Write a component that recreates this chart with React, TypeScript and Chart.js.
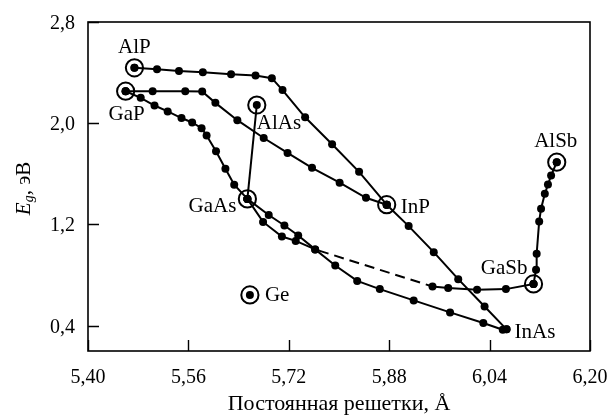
import React, { useEffect, useRef } from "react";
import { Chart, registerables } from "chart.js";

Chart.register(...registerables);

// ---- axis ticks ----
const X_TICKS = [5.4, 5.56, 5.72, 5.88, 6.04, 6.2];
const Y_TICKS = [0.4, 1.2, 2.0, 2.8];

// ---- curves (lattice constant, Å ; band gap, eV) ----
const ALP_INP_X = [5.474, 5.51, 5.545, 5.583, 5.628, 5.667, 5.693, 5.71, 5.746, 5.789, 5.832, 5.876];
const ALP_INP_Y = [2.438, 2.427, 2.413, 2.402, 2.387, 2.377, 2.356, 2.262, 2.047, 1.834, 1.616, 1.356];

const GAP_INP_X = [5.46, 5.503, 5.555, 5.582, 5.603, 5.638, 5.68, 5.718, 5.757, 5.801, 5.843, 5.876];
const GAP_INP_Y = [2.253, 2.253, 2.253, 2.251, 2.161, 2.024, 1.883, 1.765, 1.648, 1.53, 1.411, 1.356];

const INP_INAS_X = [5.876, 5.911, 5.951, 5.99, 6.032, 6.067];
const INP_INAS_Y = [1.356, 1.187, 0.981, 0.768, 0.552, 0.371];

const GAP_GAAS_X = [5.46, 5.484, 5.506, 5.527, 5.549, 5.566, 5.581, 5.589, 5.604, 5.619, 5.633, 5.654];
const GAP_GAAS_Y = [2.253, 2.201, 2.14, 2.093, 2.041, 2.006, 1.961, 1.903, 1.779, 1.64, 1.514, 1.402];

const ALAS_GAAS_X = [5.669, 5.654];
const ALAS_GAAS_Y = [2.144, 1.402];

const GAAS_INAS_X = [5.654, 5.679, 5.709, 5.731, 5.762, 5.794, 5.829, 5.865, 5.919, 5.977, 6.03, 6.061];
const GAAS_INAS_Y = [1.402, 1.22, 1.105, 1.07, 1.003, 0.876, 0.754, 0.689, 0.6, 0.505, 0.421, 0.368];

const GAAS_GASB_X = [5.654, 5.688, 5.713, 5.735, 5.762, 5.949, 5.974, 6.02, 6.066, 6.11];
const GAAS_GASB_Y = [1.402, 1.275, 1.192, 1.113, 1.003, 0.71, 0.697, 0.684, 0.689, 0.73];
const GAAS_GASB_DASHED_SEGMENT = 4; // segment starting at this index is dashed

const GASB_ALSB_X = [6.11, 6.114, 6.115, 6.119, 6.122, 6.128, 6.133, 6.138, 6.147];
const GASB_ALSB_Y = [0.73, 0.842, 0.969, 1.224, 1.324, 1.443, 1.515, 1.587, 1.692];

// ---- binary compounds ----
const COMPOUNDS = ["AlP", "GaP", "AlAs", "GaAs", "InP", "AlSb", "GaSb", "InAs", "Ge"];
const COMPOUND_X = [5.474, 5.46, 5.669, 5.654, 5.876, 6.147, 6.11, 6.067, 5.658];
const COMPOUND_Y = [2.438, 2.253, 2.144, 1.402, 1.356, 1.692, 0.73, 0.371, 0.643];
const CIRCLED = [true, true, true, true, true, true, true, false, true];

// label placement (style, pixels relative to the point)
const LABEL_STYLE: Record<string, { align: CanvasTextAlign; dx: number; dy: number }> = {
  AlP: { align: "center", dx: 0, dy: -15 },
  GaP: { align: "center", dx: 1, dy: 29 },
  AlAs: { align: "left", dx: 0, dy: 24 },
  GaAs: { align: "right", dx: -11, dy: 13 },
  InP: { align: "left", dx: 14, dy: 8 },
  AlSb: { align: "center", dx: -1, dy: -15 },
  GaSb: { align: "right", dx: -6, dy: -10 },
  InAs: { align: "left", dx: 8, dy: 9 },
  Ge: { align: "left", dx: 15, dy: 6 },
};

const FONT = '"Liberation Serif", "Times New Roman", serif';

function pts(xs: number[], ys: number[]) {
  return xs.map((x, i) => ({ x, y: ys[i] }));
}

export default function App() {
  const ref = useRef<HTMLCanvasElement>(null);

  useEffect(() => {
    document.body.style.margin = "0";
    const canvas = ref.current;
    if (!canvas) return;

    const lineDs = (label: string, xs: number[], ys: number[], extra: any = {}) => ({
      label,
      data: pts(xs, ys),
      showLine: true,
      borderColor: "#000",
      borderWidth: 2,
      pointRadius: 4,
      pointHoverRadius: 4,
      pointBackgroundColor: "#000",
      pointBorderWidth: 0,
      ...extra,
    });

    const decor = {
      id: "decor",
      afterDraw(chart: any) {
        const ctx: CanvasRenderingContext2D = chart.ctx;
        const { left, right, top, bottom } = chart.chartArea;
        const xs = chart.scales.x;
        const ys = chart.scales.y;
        ctx.save();
        ctx.strokeStyle = "#000";
        ctx.fillStyle = "#000";
        ctx.lineWidth = 1.6;
        ctx.strokeRect(left, top, right - left, bottom - top);

        // inward ticks
        ctx.lineWidth = 1.4;
        ctx.beginPath();
        X_TICKS.forEach((v) => {
          const px = Math.round(xs.getPixelForValue(v)) + 0.5;
          ctx.moveTo(px, bottom);
          ctx.lineTo(px, bottom - 11);
        });
        Y_TICKS.forEach((v) => {
          const py = Math.round(ys.getPixelForValue(v)) + 0.5;
          ctx.moveTo(left, py);
          ctx.lineTo(left + 11, py);
        });
        ctx.stroke();

        // tick labels
        ctx.font = `20px ${FONT}`;
        ctx.textBaseline = "alphabetic";
        ctx.textAlign = "center";
        X_TICKS.forEach((v) => {
          ctx.fillText(v.toFixed(2).replace(".", ","), xs.getPixelForValue(v), bottom + 32);
        });
        ctx.textAlign = "right";
        Y_TICKS.forEach((v) => {
          ctx.fillText(v.toFixed(1).replace(".", ","), left - 13, ys.getPixelForValue(v) + 7);
        });

        // x title
        ctx.font = `22px ${FONT}`;
        ctx.textAlign = "center";
        ctx.fillText("Постоянная решетки, Å", (left + right) / 2, 410);

        // y title: E_g, эВ (rotated)
        ctx.save();
        ctx.translate(30, (top + bottom) / 2 + 2);
        ctx.rotate(-Math.PI / 2);
        ctx.textAlign = "left";
        const fE = `italic 21px ${FONT}`;
        const fg = `italic 14px ${FONT}`;
        const fR = `21px ${FONT}`;
        ctx.font = fE;
        const wE = ctx.measureText("E").width;
        ctx.font = fg;
        const wg = ctx.measureText("g").width;
        ctx.font = fR;
        const wR = ctx.measureText(", эВ").width;
        let x0 = -(wE + wg + wR) / 2;
        ctx.font = fE;
        ctx.fillText("E", x0, 0);
        x0 += wE;
        ctx.font = fg;
        ctx.fillText("g", x0, 3);
        x0 += wg;
        ctx.font = fR;
        ctx.fillText(", эВ", x0, 0);
        ctx.restore();

        // compound labels
        ctx.font = `21px ${FONT}`;
        COMPOUNDS.forEach((name, i) => {
          const st = LABEL_STYLE[name];
          const px = xs.getPixelForValue(COMPOUND_X[i]);
          const py = ys.getPixelForValue(COMPOUND_Y[i]);
          ctx.textAlign = st.align;
          ctx.fillText(name, px + st.dx, py + st.dy);
        });
        ctx.restore();
      },
    };

    const ringIdx = COMPOUNDS.map((_, i) => i).filter((i) => CIRCLED[i]);

    const chart = new Chart(canvas, {
      type: "scatter",
      data: {
        datasets: [
          {
            label: "rings",
            data: ringIdx.map((i) => ({ x: COMPOUND_X[i], y: COMPOUND_Y[i] })),
            showLine: false,
            pointRadius: 8.6,
            pointHoverRadius: 8.6,
            pointBackgroundColor: "rgba(0,0,0,0)",
            pointBorderColor: "#000",
            pointBorderWidth: 2,
          } as any,
          {
            label: "dots",
            data: pts(COMPOUND_X, COMPOUND_Y),
            showLine: false,
            pointRadius: 4,
            pointHoverRadius: 4,
            pointBackgroundColor: "#000",
            pointBorderWidth: 0,
          } as any,
          lineDs("AlP-InP", ALP_INP_X, ALP_INP_Y),
          lineDs("GaP-InP", GAP_INP_X, GAP_INP_Y),
          lineDs("InP-InAs", INP_INAS_X, INP_INAS_Y),
          lineDs("GaP-GaAs", GAP_GAAS_X, GAP_GAAS_Y),
          lineDs("AlAs-GaAs", ALAS_GAAS_X, ALAS_GAAS_Y, { pointRadius: 0, pointHoverRadius: 0 }),
          lineDs("GaAs-InAs", GAAS_INAS_X, GAAS_INAS_Y),
          lineDs("GaAs-GaSb", GAAS_GASB_X, GAAS_GASB_Y, {
            segment: {
              borderDash: (c: any) => (c.p0DataIndex === GAAS_GASB_DASHED_SEGMENT ? [10, 6] : undefined),
              borderDashOffset: (c: any) => (c.p0DataIndex === GAAS_GASB_DASHED_SEGMENT ? 12 : undefined),
            },
          }),
          lineDs("GaSb-AlSb", GASB_ALSB_X, GASB_ALSB_Y),
        ],
      },
      options: {
        animation: false,
        responsive: false,
        maintainAspectRatio: false,
        events: [],
        layout: { padding: { left: 88, right: 18, top: 22, bottom: 64 } },
        plugins: { legend: { display: false }, tooltip: { enabled: false } },
        scales: {
          x: { type: "linear", display: false, min: 5.4, max: 6.2 },
          y: { type: "linear", display: false, min: 0.2, max: 2.8 },
        },
      },
      plugins: [decor],
    });
    return () => chart.destroy();
  }, []);

  return <canvas ref={ref} width={608} height={415} style={{ display: "block" }} />;
}
